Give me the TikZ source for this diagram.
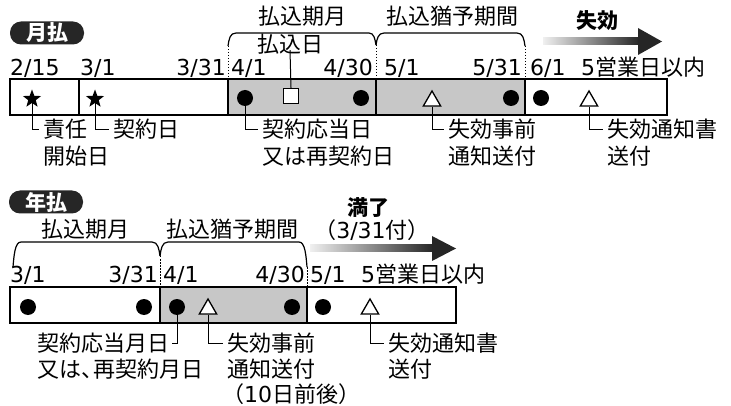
\documentclass[tikz,border=0pt]{standalone}
\usepackage{fontspec}
\setmainfont{Noto Sans CJK JP}
\newfontfamily\numfont{DejaVu Sans}
\usetikzlibrary{shapes.geometric,positioning}

\tikzset{
	lbl/.style={inner sep=0pt, text height=17pt, text depth=1pt, font=\fontsize{22}{26}\selectfont},
	lblw/.style={lbl, anchor=west},
	lble/.style={lbl, anchor=east},
	bold/.style={lbl, font=\bfseries\fontsize{21}{25}\selectfont},
	badge/.style={rounded corners=11pt, fill=black!85, text=white, inner sep=0pt, minimum width=74pt, minimum height=23pt, font=\bfseries\fontsize{21}{22}\selectfont},
	tbox/.style={line width=2pt},
	dotmk/.style={circle, fill=black, minimum size=16pt, inner sep=0pt},
	starmk/.style={star, star points=5, star point ratio=2.4, fill=black, minimum size=19pt, inner sep=0pt},
	trimk/.style={regular polygon, regular polygon sides=3, draw, fill=white, line width=1.3pt, minimum size=20pt, inner sep=0pt},
	sqmk/.style={rectangle, draw, fill=white, line width=1.3pt, minimum size=15pt, inner sep=0pt},
	callout/.style={line width=1pt},
	brace/.style={line width=1.2pt},
	sep/.style={line width=1pt, dash pattern=on 1.5pt off 1.5pt}
}

\begin{document}
\begin{tikzpicture}[x=1pt,y=1pt,yscale=-1,xscale=1]
		\useasboundingbox (0,0) rectangle (731,406);

		% monthly
		\node[badge] (bmon) at (47,33) {月払};
		\fill[black!22] (228,79) rectangle (525,115);
		\draw[tbox] (10,79) rectangle (667,115);
		\draw[tbox] (79,79) -- (79,115);
		\draw[tbox] (228,79) -- (228,115);
		\draw[tbox] (376,79) -- (376,115);
		\draw[tbox] (525,79) -- (525,115);
		\draw[sep] (228,46) -- (228,79);
		\draw[sep] (376,45) -- (376,79);
		\draw[sep] (525,46) -- (525,79);
		\draw[brace] (228,46) .. controls (229,39) and (230,33) .. (236,33) -- (369,33) .. controls (374,33) and (375,39) .. (376,45);
		\draw[brace] (376,45) .. controls (377,39) and (378,33) .. (384,33) -- (517,33) .. controls (523,33) and (524,39) .. (525,46);
		\node[lbl] (tterm) at (302,17) {払込期月};
		\node[lbl] (tgrace) at (452,17) {払込猶予期間};
		\node[lbl] (tpay) at (290,45) {払込日};
		\shade[left color=black!6, right color=black!85] (543,38) rectangle (639,45);
		\fill[black!85] (638,28) -- (662,41.5) -- (638,55) -- cycle;
		\node[bold] (tlapse) at (597,21) {失効};

		\node[lblw] (d215) at (10,68) {\numfont 2/15};
		\node[lblw] (d31) at (80,68) {\numfont 3/1};
		\node[lble] (d331) at (226,68) {\numfont 3/31};
		\node[lblw] (d41) at (231,68) {\numfont 4/1};
		\node[lble] (d430) at (373,68) {\numfont 4/30};
		\node[lblw] (d51) at (384,68) {\numfont 5/1};
		\node[lble] (d531) at (522,68) {\numfont 5/31};
		\node[lblw] (d61) at (530,68) {\numfont 6/1};
		\node[lblw] (d5d) at (581,68) {{\numfont 5}営業日以内};

		\node[starmk] (s1) at (32,99) {};
		\node[starmk] (s2) at (95,99) {};
		\node[dotmk] (c1) at (245,98) {};
		\node[sqmk] (q1) at (291,96) {};
		\node[dotmk] (c2) at (361,98) {};
		\node[trimk] (a1) at (432,101) {};
		\node[dotmk] (c3) at (511,98) {};
		\node[dotmk] (c4) at (541,98) {};
		\node[trimk] (a2) at (589,101) {};

		\node[lblw] (ts1) at (43,130) {責任};
		\node[lblw] (ts1b) at (43,157) {開始日};
		\node[lblw] (ts2) at (113,130) {契約日};
		\node[lblw] (tc1) at (262,130) {契約応当日};
		\node[lblw] (tc1b) at (262,157) {又は再契約日};
		\node[lblw] (ta1) at (448,130) {失効事前};
		\node[lblw] (ta1b) at (448,157) {通知送付};
		\node[lblw] (ta2) at (607,130) {失効通知書};
		\node[lblw] (ta2b) at (607,157) {送付};

		\draw[callout] (s1.center) |- ([xshift=-4pt]ts1.west);
		\draw[callout] (s2.center) |- ([xshift=-4pt]ts2.west);
		\draw[callout] (c1.center) |- ([xshift=-4pt]tc1.west);
		\draw[callout] (a1.south) |- ([xshift=-4pt]ta1.west);
		\draw[callout] (a2.south) |- ([xshift=-4pt]ta2.west);
		\draw[callout] ([yshift=-4pt]tpay.south) -- (q1.north);

		% yearly
		\node[badge] (byear) at (46,202) {年払};
		\fill[black!22] (160,287) rectangle (307,323);
		\draw[tbox] (10,287) rectangle (456,323);
		\draw[tbox] (160,287) -- (160,323);
		\draw[tbox] (307,287) -- (307,323);
		\draw[sep] (160,256) -- (160,287);
		\draw[sep] (307,267) -- (307,287);
		\draw[brace] (13,267) .. controls (14,255) and (15,242) .. (21,242) -- (152,242) .. controls (158,242) and (159,249) .. (160,256);
		\draw[brace] (160,256) .. controls (161,249) and (162,242) .. (168,242) -- (299,242) .. controls (305,242) and (306,255) .. (307,267);
		\node[lbl] (tterm2) at (85,229) {払込期月};
		\node[lbl] (tgrace2) at (232,229) {払込猶予期間};
		\shade[left color=black!6, right color=black!85] (310,245) rectangle (433,252);
		\fill[black!85] (432,236) -- (456,248.5) -- (432,261) -- cycle;
		\node[bold] (tend) at (368,208) {満了};
		\node[lbl] (tend2) at (372,231) {（{\numfont 3/31}付）};

		\node[lblw] (e31) at (10,275) {\numfont 3/1};
		\node[lble] (e331) at (158,275) {\numfont 3/31};
		\node[lblw] (e41) at (163,275) {\numfont 4/1};
		\node[lble] (e430) at (305,275) {\numfont 4/30};
		\node[lblw] (e51) at (310,275) {\numfont 5/1};
		\node[lblw] (e5d) at (361,275) {{\numfont 5}営業日以内};

		\node[dotmk] (k1) at (28,307) {};
		\node[dotmk] (k2) at (144,307) {};
		\node[dotmk] (k3) at (177,307) {};
		\node[trimk] (b1) at (208,309) {};
		\node[dotmk] (k4) at (292,307) {};
		\node[dotmk] (k5) at (323,307) {};
		\node[trimk] (b2) at (370,309) {};

		\node[lblw] (tk3) at (37,343) {契約応当月日};
		\node[lblw] (tk3b) at (37,369) {又は、\kern-0.45em再契約月日};
		\node[lblw] (tb1) at (227,343) {失効事前};
		\node[lblw] (tb1b) at (227,369) {通知送付};
		\node[lblw] (tb1c) at (222,394) {（{\numfont 10}日前後）};
		\node[lblw] (tb2) at (388,343) {失効通知書};
		\node[lblw] (tb2b) at (388,369) {送付};

		\draw[callout] (k3.center) |- ([xshift=3pt]tk3.east);
		\draw[callout] (b1.south) |- ([xshift=-4pt]tb1.west);
		\draw[callout] (b2.south) |- ([xshift=-4pt]tb2.west);
		\end{tikzpicture}
\end{document}
